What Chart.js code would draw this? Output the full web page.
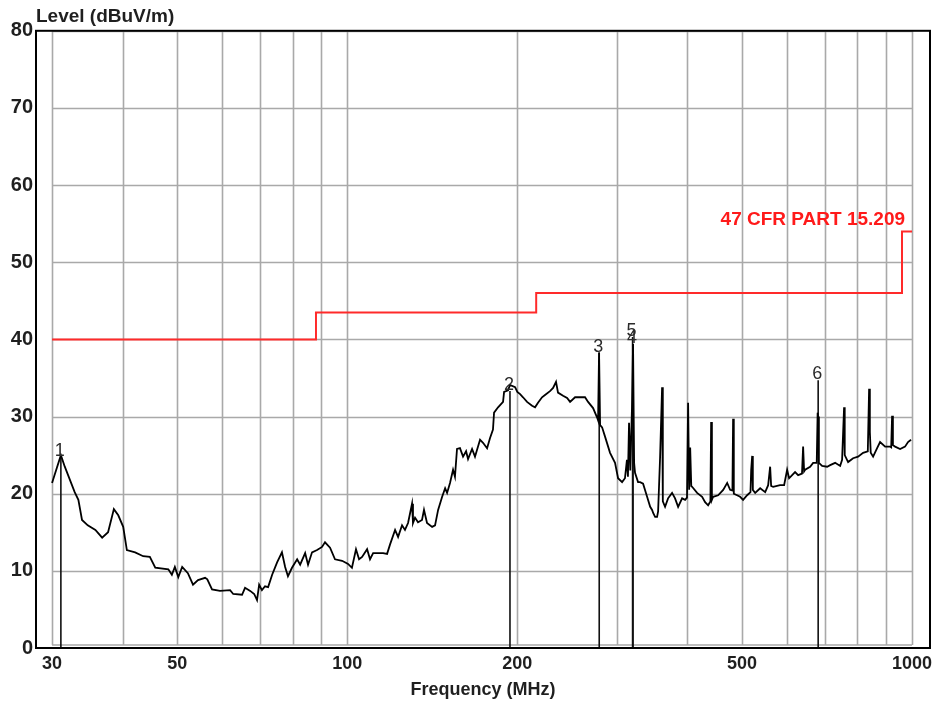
<!DOCTYPE html>
<html>
<head>
<meta charset="utf-8">
<script src="https://cdn.jsdelivr.net/npm/chart.js@4.4.1/dist/chart.umd.min.js"></script>
<style>
  html, body { margin: 0; padding: 0; background: #fff; }
  #wrap { width: 939px; height: 703px; position: relative; }
</style>
</head>
<body>
<div id="wrap"><canvas id="emiChart"></canvas></div>
<script>
const traceFreq = [
  30.0, 31.1, 31.6, 32.9, 33.4, 33.9, 34.7, 35.8, 36.8, 37.7, 38.6, 39.3, 40.1, 40.7, 42.1, 43.5,
  44.7, 45.7, 48.2, 48.9, 49.5, 50.2, 51.0, 52.2, 53.3, 54.4, 56.0, 56.5, 57.6, 59.5, 62.0, 62.8,
  65.1, 65.9, 67.3, 68.4, 69.2, 69.8, 70.6, 71.5, 72.4, 73.6, 75.1, 76.6, 77.6, 78.5, 79.8, 81.5,
  82.5, 84.2, 85.2, 86.6, 88.4, 90.2, 91.3, 93.2, 95.1, 97.9, 100.3, 101.9, 103.6, 104.9, 106.2, 108.4,
  109.7, 111.1, 113.4, 115.7, 117.6, 119.0, 121.5, 123.0, 125.0, 126.5, 128.1, 130.2, 130.7, 131.8, 133.4, 135.6,
  136.7, 138.4, 141.3, 143.0, 144.8, 147.2, 149.0, 150.2, 152.0, 153.9, 155.1, 156.4, 158.3, 160.3, 162.3, 163.6,
  166.3, 168.3, 171.8, 173.9, 176.8, 178.9, 181.1, 181.9, 184.9, 188.7, 189.5, 192.6, 194.1, 198.2, 200.0, 202.3,
  204.7, 208.1, 212.4, 215.0, 217.6, 221.2, 223.9, 228.5, 231.4, 234.2, 236.1, 241.0, 245.0, 248.0, 253.1, 258.3,
  263.6, 266.9, 272.4, 276.8, 278.0, 279.1, 280.3, 282.6, 286.0, 291.9, 297.9, 301.6, 306.6, 310.2, 312.7, 314.0,
  315.4, 317.0, 319.2, 320.6, 322.0, 323.2, 327.2, 330.0, 334.0, 339.5, 343.8, 346.5, 348.0, 350.8, 353.6, 355.1,
  358.0, 360.9, 362.0, 365.3, 369.8, 375.9, 380.5, 385.3, 391.6, 396.4, 399.5, 401.3, 403.0, 404.7, 406.5, 407.9,
  416.3, 424.9, 430.1, 435.4, 439.5, 440.8, 442.2, 444.4, 453.6, 463.0, 470.6, 476.3, 480.8, 482.1, 483.5, 490.0,
  496.1, 502.2, 510.5, 517.5, 519.0, 521.1, 522.5, 527.5, 538.3, 549.5, 556.2, 560.7, 563.0, 567.6, 583.9, 593.6,
  600.9, 605.8, 613.3, 620.7, 628.5, 638.5, 641.4, 644.0, 646.7, 660.0, 668.1, 678.0, 680.5, 682.0, 684.0, 693.1,
  707.5, 716.2, 730.9, 745.9, 751.9, 758.0, 760.0, 770.5, 786.4, 802.5, 819.1, 835.0, 839.4, 842.0, 845.0, 853.2,
  867.3, 877.8, 896.1, 914.4, 918.5, 921.9, 925.0, 933.3, 952.5, 971.8, 983.8, 996.0
];
const traceLevel = [
  21.4, 25.0, 23.5, 20.2, 19.2, 16.6, 15.9, 15.3, 14.3, 15.0, 18.0, 17.2, 15.7, 12.7, 12.4, 11.9,
  11.8, 10.4, 10.2, 9.5, 10.5, 9.2, 10.5, 9.7, 8.2, 8.8, 9.1, 8.9, 7.6, 7.4, 7.5, 7.0,
  6.9, 7.8, 7.4, 7.0, 6.2, 8.2, 7.5, 8.0, 7.9, 9.5, 11.1, 12.4, 10.5, 9.3, 10.4, 11.5,
  10.8, 12.3, 10.8, 12.4, 12.7, 13.1, 13.7, 13.0, 11.5, 11.3, 10.9, 10.4, 12.8, 11.5, 11.8, 12.8,
  11.5, 12.3, 12.3, 12.3, 12.2, 13.4, 15.3, 14.4, 15.9, 15.3, 16.2, 18.7, 16.2, 16.9, 16.3, 16.6,
  17.9, 16.2, 15.7, 15.9, 17.9, 19.6, 20.7, 20.1, 21.4, 23.1, 22.2, 25.8, 25.9, 24.8, 25.5, 24.5,
  25.8, 24.8, 27.0, 26.6, 25.9, 27.2, 28.3, 30.5, 31.2, 31.9, 33.2, 33.4, 34.1, 33.8, 33.2, 32.9,
  32.5, 31.9, 31.4, 31.2, 31.8, 32.5, 32.8, 33.3, 33.7, 34.5, 33.1, 32.7, 32.4, 31.9, 32.5, 32.5,
  32.5, 31.9, 31.1, 29.9, 29.5, 38.3, 28.9, 28.6, 27.4, 25.3, 24.0, 22.0, 21.5, 22.0, 24.4, 22.2,
  29.2, 23.0, 31.1, 39.4, 24.0, 22.7, 21.5, 21.5, 21.3, 19.6, 18.3, 17.9, 17.5, 17.0, 17.0, 17.7,
  24.8, 33.8, 19.0, 18.3, 19.4, 20.1, 19.4, 18.3, 19.4, 19.2, 19.5, 31.8, 20.5, 26.0, 21.0, 20.9,
  20.1, 19.6, 18.9, 18.5, 19.0, 29.3, 19.2, 19.6, 19.8, 20.5, 21.4, 20.5, 20.4, 29.7, 20.0, 19.8,
  19.6, 19.2, 19.8, 20.2, 23.1, 24.9, 20.5, 20.1, 20.7, 20.2, 21.1, 23.5, 21.0, 20.9, 21.1, 21.1,
  23.1, 22.0, 22.4, 22.8, 22.4, 22.6, 26.1, 22.9, 23.1, 23.5, 24.0, 24.0, 30.5, 30.0, 24.0, 23.6,
  23.5, 23.7, 24.0, 23.6, 24.4, 31.2, 25.0, 24.1, 24.6, 24.8, 25.3, 25.5, 33.6, 28.0, 25.3, 24.8,
  25.9, 26.7, 26.1, 26.1, 26.0, 30.1, 26.3, 26.1, 25.8, 26.1, 26.7, 27.0
];

// FCC 15.209 limit, stepped
const limitFreq  = [30, 88, 88, 216, 216, 960, 960, 1000];
const limitLevel = [40, 40, 43.5, 43.5, 46, 46, 54, 54];
const limitLabel = '47 CFR PART 15.209';

// Peak markers
const markerNames = ['1', '2', '3', '4', '5', '6'];
const markerFreq  = [31.1, 194.1, 279.3, 320.6, 320.0, 682.0];
const markerLevel = [24.8, 33.3, 38.3, 39.4, 40.3, 34.7];

// Axes
const xGridValues  = [30, 40, 50, 60, 70, 80, 90, 100, 200, 300, 400, 500, 600, 700, 800, 900, 1000];
const xLabelValues = [30, 50, 100, 200, 500, 1000];
const yGridValues  = [10, 20, 30, 40, 50, 60, 70, 80];

const FONT = '"Liberation Sans", Arial, sans-serif';

const markerDatasets = markerFreq.map((f, i) => ({
  label: 'Marker ' + markerNames[i],
  data: [{ x: f, y: 0 }, { x: f, y: markerLevel[i] }],
  borderColor: '#111',
  borderWidth: 1.6,
  pointRadius: 0,
  fill: false,
}));

// grey grid + inner box, limited to the 30-1000 MHz / 0-80 dB region
const gridPlugin = {
  id: 'emiGrid',
  beforeDatasetsDraw(chart) {
    const { ctx, scales: { x, y } } = chart;
    const left = x.getPixelForValue(30), right = x.getPixelForValue(1000);
    const top = y.getPixelForValue(80), bottom = y.getPixelForValue(0) - 3;
    ctx.save();
    ctx.strokeStyle = '#a9a9a9';
    ctx.lineWidth = 1.6;
    ctx.beginPath();
    xGridValues.forEach(v => {
      const px = Math.round(x.getPixelForValue(v)) + 0.5;
      ctx.moveTo(px, top); ctx.lineTo(px, bottom);
    });
    yGridValues.forEach(v => {
      const py = Math.round(y.getPixelForValue(v)) + 0.5;
      ctx.moveTo(left, py); ctx.lineTo(right, py);
    });
    ctx.moveTo(left, bottom); ctx.lineTo(right, bottom);
    ctx.stroke();
    ctx.restore();
  },
  afterDatasetsDraw(chart) {
    const { ctx, scales: { x, y } } = chart;
    ctx.save();
    // marker numbers
    ctx.font = '18px ' + FONT;
    ctx.fillStyle = '#2b2b2b';
    ctx.textAlign = 'center';
    ctx.textBaseline = 'alphabetic';
    markerNames.forEach((name, i) => {
      ctx.fillText(name, x.getPixelForValue(markerFreq[i]) - 1, y.getPixelForValue(markerLevel[i]) - 1);
    });
    // limit line caption
    ctx.font = 'bold 19px ' + FONT;
    ctx.fillStyle = '#ff1a1a';
    ctx.textAlign = 'right';
    ctx.fillText(limitLabel, x.getPixelForValue(limitFreq[5]) + 3, y.getPixelForValue(limitLevel[6]) - 6);
    ctx.restore();
  },
  afterDraw(chart) {
    const { ctx, chartArea: a } = chart;
    ctx.save();
    ctx.strokeStyle = '#000';
    ctx.lineWidth = 2;
    ctx.strokeRect(a.left, a.top, a.right - a.left, a.bottom - a.top);
    ctx.restore();
  },
};

new Chart(document.getElementById('emiChart'), {
  type: 'line',
  data: {
    datasets: [
      {
        label: 'Level',
        data: traceFreq.map((f, i) => ({ x: f, y: traceLevel[i] })),
        borderColor: '#000',
        borderWidth: 1.8,
        pointRadius: 0,
        fill: false,
        tension: 0,
      },
      ...markerDatasets,
      {
        label: limitLabel,
        data: limitFreq.map((f, i) => ({ x: f, y: limitLevel[i] })),
        borderColor: '#ff2a2a',
        borderWidth: 2,
        pointRadius: 0,
        fill: false,
        tension: 0,
      },
    ],
  },
  options: {
    responsive: true,
    maintainAspectRatio: false,
    animation: false,
    layout: { padding: { right: 9 } },
    plugins: {
      legend: { display: false },
      tooltip: { enabled: false },
      title: {
        display: true,
        text: 'Level (dBuV/m)',
        align: 'start',
        fullSize: false,
        color: '#1f1f1f',
        font: { family: FONT, size: 19, weight: 'bold', lineHeight: 1.2 },
        padding: { top: 5, bottom: 3 },
      },
    },
    scales: {
      x: {
        type: 'logarithmic',
        min: 28.1,
        max: 1076,
        grid: { display: false, drawTicks: false },
        border: { display: false },
        afterBuildTicks(scale) { scale.ticks = xLabelValues.map(v => ({ value: v })); },
        afterFit(scale) { scale.height = 55; },
        ticks: {
          autoSkip: false,
          maxRotation: 0,
          padding: 5,
          color: '#1f1f1f',
          font: { family: FONT, size: 18, weight: 'bold' },
          callback: value => String(value),
        },
        title: {
          display: true,
          text: 'Frequency (MHz)',
          color: '#1f1f1f',
          font: { family: FONT, size: 18, weight: 'bold', lineHeight: 1.2 },
          padding: { top: 0, bottom: 2 },
        },
      },
      y: {
        min: 0,
        max: 80,
        grid: { display: false, drawTicks: false },
        border: { display: false },
        afterFit(scale) { scale.width = 36; },
        ticks: {
          stepSize: 10,
          padding: 3,
          color: '#1f1f1f',
          font: { family: FONT, size: 20, weight: 'bold' },
        },
      },
    },
  },
  plugins: [gridPlugin],
});
</script>
</body>
</html>
